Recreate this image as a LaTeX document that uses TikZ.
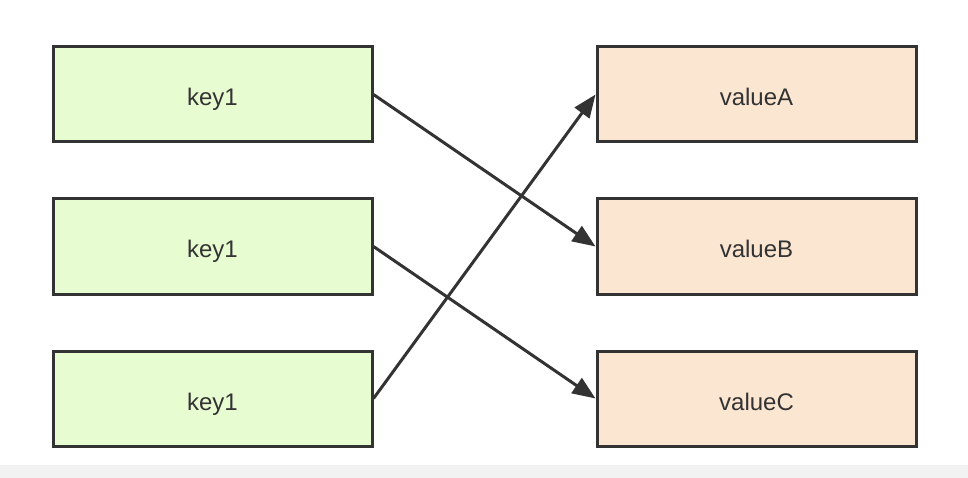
\documentclass[tikz,border=0pt]{standalone}
\usepackage{fontspec}
\setmainfont{Liberation Sans}
\usetikzlibrary{arrows.meta}
\definecolor{keyfill}{RGB}{232,252,210}
\definecolor{valfill}{RGB}{250,230,209}
\definecolor{edge}{RGB}{51,51,51}
\definecolor{band}{RGB}{242,242,242}
\begin{document}
\begin{tikzpicture}[x=1pt,y=-1pt,
  box/.style={draw=edge, line width=3pt, minimum width=319pt, minimum height=95pt, inner sep=0pt, text height=23pt, text depth=0pt, text=edge, font=\fontsize{24}{28}\selectfont},
  keybox/.style={box, fill=keyfill},
  valbox/.style={box, fill=valfill},
  conn/.style={draw=edge, line width=3pt, -{Triangle[length=23pt,width=18pt]}}]
\useasboundingbox (0,0) rectangle (968,478);
\fill[band] (0,465) rectangle (968,478);
\node[keybox] (k1) at (212.5,94.5) {key1};
\node[keybox] (k2) at (212.5,246.5) {key1};
\node[keybox] (k3) at (212.5,398.5) {key1};
\node[valbox] (vA) at (756.5,94.5) {valueA};
\node[valbox] (vB) at (756.5,246.5) {valueB};
\node[valbox] (vC) at (756.5,398.5) {valueC};
\draw[conn] (k1.east) -- (vB.west);
\draw[conn] (k2.east) -- (vC.west);
\draw[conn] (k3.east) -- (vA.west);
\end{tikzpicture}
\end{document}
